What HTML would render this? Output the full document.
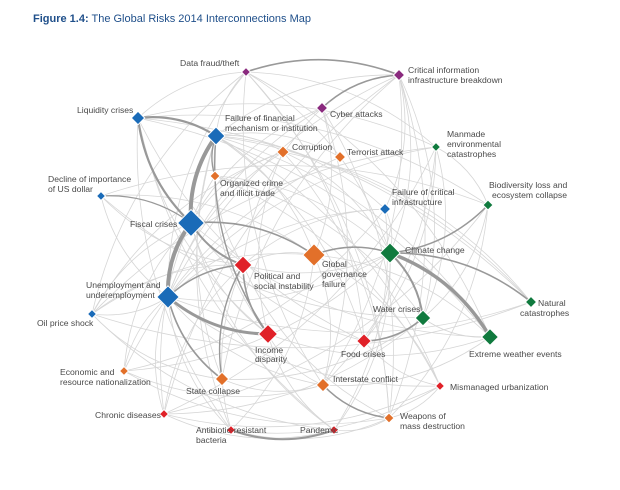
<!DOCTYPE html>
<html><head><meta charset="utf-8"><style>
html,body{margin:0;padding:0;background:#fff;width:620px;height:490px;overflow:hidden}
svg{display:block}
text{font-family:"Liberation Sans",sans-serif;font-size:8.6px;fill:#4a4a4a}
</style></head><body>
<svg id="s" width="620" height="490" viewBox="0 0 620 490">
<text x="33" y="22" style="font-size:11px;fill:#1f4f8a"><tspan font-weight="bold">Figure 1.4:</tspan> The Global Risks 2014 Interconnections Map</text>
<g id="edges" fill="none"></g>
<g id="nodes"></g>
<g id="labels">
<text x="180" y="66">Data fraud/theft</text>
<text x="408" y="73">Critical information</text><text x="408" y="83">infrastructure breakdown</text>
<text x="330" y="117">Cyber attacks</text>
<text x="77" y="113">Liquidity crises</text>
<text x="225" y="121">Failure of financial</text><text x="225" y="131">mechanism or institution</text>
<text x="292" y="150">Corruption</text>
<text x="347" y="155">Terrorist attack</text>
<text x="447" y="137">Manmade</text><text x="447" y="147">environmental</text><text x="447" y="157">catastrophes</text>
<text x="220" y="186">Organized crime</text><text x="220" y="196">and illicit trade</text>
<text x="48" y="182">Decline of importance</text><text x="48" y="192">of US dollar</text>
<text x="392" y="195">Failure of critical</text><text x="392" y="205">infrastructure</text>
<text x="489" y="188">Biodiversity loss and</text><text x="492" y="198">ecosystem collapse</text>
<text x="130" y="227">Fiscal crises</text>
<text x="322" y="267">Global</text><text x="322" y="277">governance</text><text x="322" y="287">failure</text>
<text x="405" y="253">Climate change</text>
<text x="254" y="279">Political and</text><text x="254" y="289">social instability</text>
<text x="86" y="288">Unemployment and</text><text x="86" y="298">underemployment</text>
<text x="538" y="306">Natural</text><text x="520" y="316">catastrophes</text>
<text x="37" y="326">Oil price shock</text>
<text x="373" y="312">Water crises</text>
<text x="255" y="353">Income</text><text x="255" y="362">disparity</text>
<text x="469" y="357">Extreme weather events</text>
<text x="341" y="357">Food crises</text>
<text x="60" y="375">Economic and</text><text x="60" y="385">resource nationalization</text>
<text x="186" y="394">State collapse</text>
<text x="333" y="382">Interstate conflict</text>
<text x="450" y="390">Mismanaged urbanization</text>
<text x="95" y="418">Chronic diseases</text>
<text x="400" y="419">Weapons of</text><text x="400" y="429">mass destruction</text>
<text x="196" y="433">Antibiotic-resistant</text><text x="196" y="443">bacteria</text>
<text x="300" y="433">Pandemic</text>
</g>
</svg>
<script>
var N={df:[246,72,4,'#8a2a7e'],ci:[399,75,5,'#8a2a7e'],cy:[322,108,5,'#8a2a7e'],lq:[138,118,6,'#1a6bb8'],ff:[216,136,8,'#1a6bb8'],
co:[283,152,5.5,'#e2702a'],te:[340,157,5,'#e2702a'],mm:[436,147,4,'#107a3e'],oc:[215,176,4.5,'#e2702a'],us:[101,196,4,'#1a6bb8'],
fi:[385,209,5,'#1a6bb8'],bd:[488,205,4.5,'#107a3e'],fc:[191,223,12,'#1a6bb8'],gg:[314,255,10,'#e2702a'],cc:[390,253,9,'#107a3e'],
ps:[243,265,8,'#e02128'],un:[168,297,10,'#1a6bb8'],nc:[531,302,5,'#107a3e'],op:[92,314,4,'#1a6bb8'],wc:[423,318,7,'#107a3e'],
id:[268,334,8.5,'#e02128'],ew:[490,337,7.5,'#107a3e'],fo:[364,341,6.5,'#e02128'],er:[124,371,4,'#e2702a'],sc:[222,379,6,'#e2702a'],
ic:[323,385,6,'#e2702a'],mu:[440,386,4,'#e02128'],ch:[164,414,4,'#e02128'],wm:[389,418,4.5,'#e2702a'],ab:[231,430,4,'#e02128'],pa:[334,430,4,'#e02128']};
var thick=[['fc','ff',4],['fc','un',4],['lq','fc',2.2],['lq','ff',2.2],['un','id',3],['cc','ew',3.5],['cc','wc',2],['fc','ps',2],
['df','ci',1.6],['cy','ci',1.6],['ab','pa',2],['fc','gg',1.6],['ff','oc',1.4],['gg','cc',1.6],['bd','cc',1.6],['cc','nc',1.6],['un','sc',1.6],['id','ps',1.6],['fc','us',1.2],['wc','fo',1.6],['ic','wm',1.6],['ps','sc',1.4],['ff','id',1.4],['un','ps',1.6]];
var keys=Object.keys(N),light=[];
var seed=7;function r(){seed=(seed*9301+49297)%233280;return seed/233280;}
for(var i=0;i<keys.length;i++)for(var j=i+1;j<keys.length;j++){var a=N[keys[i]],b=N[keys[j]];var p=(a[2]+b[2])/26;if(r()<0.1+p*0.33)light.push([keys[i],keys[j],0.8]);}
var E=document.getElementById('edges'),ns='http://www.w3.org/2000/svg',cx=300,cy=260;
function path(e,col){var a=N[e[0]],b=N[e[1]];var mx=(a[0]+b[0])/2,my=(a[1]+b[1])/2,dx=b[0]-a[0],dy=b[1]-a[1],L=Math.hypot(dx,dy);
var nx=-dy/L,ny=dx/L;if((mx-cx)*nx+(my-cy)*ny<0){nx=-nx;ny=-ny;}var k=L*0.18;
var p=document.createElementNS(ns,'path');p.setAttribute('d','M'+a[0]+','+a[1]+' Q'+(mx+nx*k)+','+(my+ny*k)+' '+b[0]+','+b[1]);
p.setAttribute('stroke',col);p.setAttribute('stroke-width',e[2]);E.appendChild(p);}
light.forEach(function(e){path(e,'#d6d6d6')});
thick.forEach(function(e){path(e,'#999')});
var G=document.getElementById('nodes');
keys.forEach(function(k){var n=N[k],s=n[2]*1.12;var p=document.createElementNS(ns,'polygon');
p.setAttribute('points',[n[0],n[1]-s,n[0]+s,n[1],n[0],n[1]+s,n[0]-s,n[1]].join(' ').replace(/(\S+) (\S+)/g,'$1,$2'));
p.setAttribute('fill',n[3]);p.setAttribute('stroke','#fff');p.setAttribute('stroke-width','1');G.appendChild(p);});
</script>
</body></html>
